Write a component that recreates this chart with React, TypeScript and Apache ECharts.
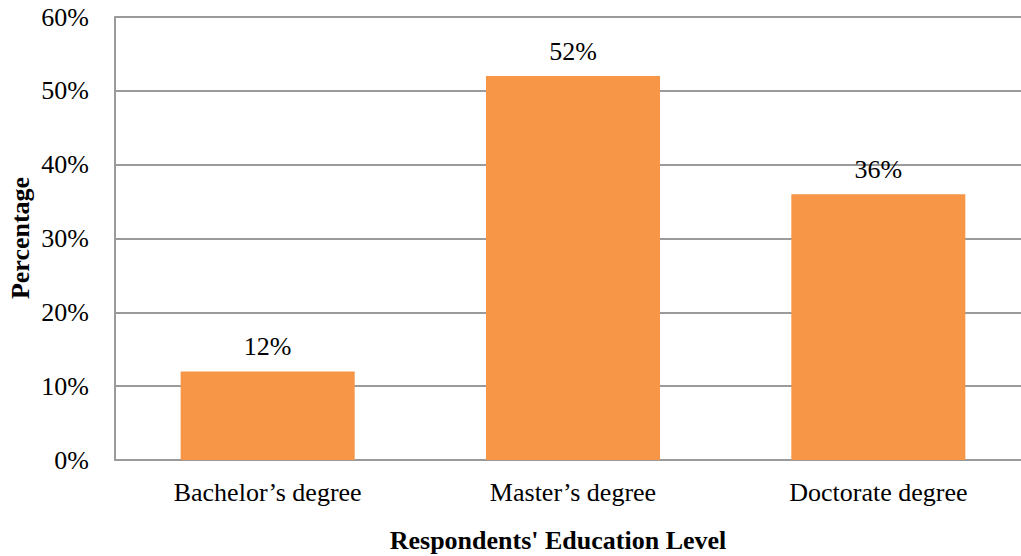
import React, { useEffect, useRef } from "react";
import * as echarts from "echarts";

const categories = ["Bachelor’s degree", "Master’s degree", "Doctorate degree"];
const percentages = [12, 52, 36];
const yTicks = [0, 10, 20, 30, 40, 50, 60];

const FONT = "'Liberation Serif', 'Times New Roman', serif";

export default function App() {
  const ref = useRef<HTMLDivElement>(null);

  useEffect(() => {
    if (!ref.current) return;
    const chart = echarts.init(ref.current, null, { renderer: "svg" });
    chart.setOption({
      animation: false,
      backgroundColor: "#ffffff",
      grid: { left: 115, top: 17, right: 0, bottom: 96 },
      xAxis: {
        type: "category",
        data: categories,
        axisLine: { show: true, lineStyle: { color: "#9a9a9a", width: 2 } },
        axisTick: { show: false },
        axisLabel: {
          color: "#000",
          fontFamily: FONT,
          fontSize: 26,
          margin: 19,
        },
      },
      yAxis: {
        type: "value",
        min: yTicks[0],
        max: yTicks[yTicks.length - 1],
        interval: 10,
        axisLine: { show: true, lineStyle: { color: "#9a9a9a", width: 2 } },
        axisTick: { show: false },
        splitLine: { lineStyle: { color: "#9a9a9a", width: 2 } },
        axisLabel: {
          color: "#000",
          fontFamily: FONT,
          fontSize: 26,
          margin: 26,
          formatter: "{value}%",
        },
      },
      series: [
        {
          type: "bar",
          data: percentages,
          barCategoryGap: "43%",
          itemStyle: { color: "#F79646" },
          label: {
            show: true,
            position: "top",
            distance: 12,
            color: "#000",
            fontFamily: FONT,
            fontSize: 26,
            formatter: "{c}%",
          },
        },
      ],
      graphic: [
        {
          type: "text",
          x: 558,
          y: 540,
          style: {
            text: "Respondents' Education Level",
            fontFamily: FONT,
            fontWeight: "bold",
            fontSize: 26,
            fill: "#000",
            textAlign: "center",
            textVerticalAlign: "middle",
          },
        },
        {
          type: "text",
          x: 20,
          y: 238,
          rotation: Math.PI / 2,
          style: {
            text: "Percentage",
            fontFamily: FONT,
            fontWeight: "bold",
            fontSize: 26,
            fill: "#000",
            textAlign: "center",
            textVerticalAlign: "middle",
          },
        },
      ],
    });
    return () => chart.dispose();
  }, []);

  // The chart canvas is a little wider than the visible frame, so the
  // plot area runs off the right edge.
  return (
    <div style={{ position: "fixed", left: 0, top: 0, width: 1021, height: 556, overflow: "hidden" }}>
      <div ref={ref} style={{ width: 1031, height: 556 }} />
    </div>
  );
}
